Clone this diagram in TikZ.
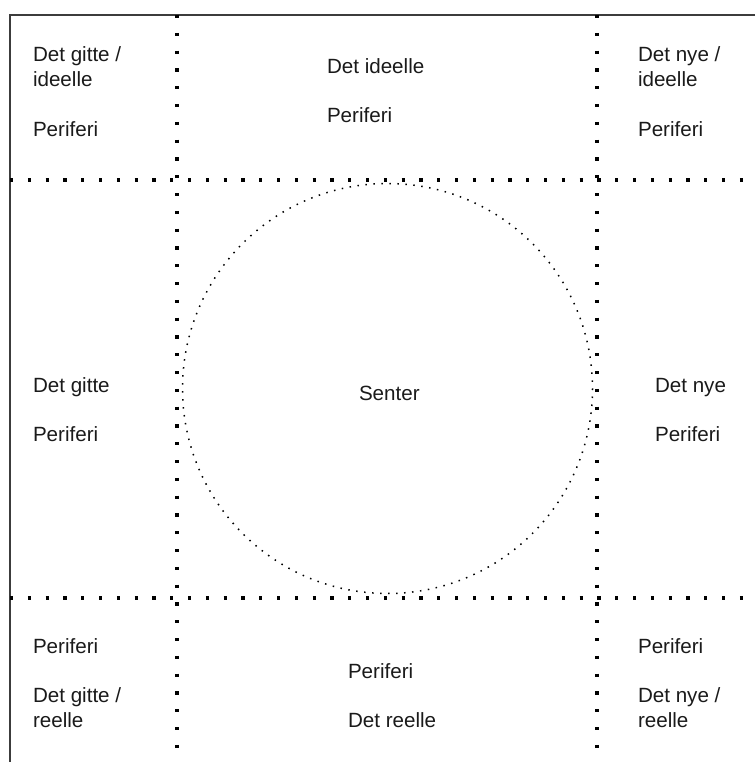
\documentclass[tikz,border=0pt]{standalone}
\usepackage{fontspec}
\setmainfont{Liberation Sans}
\definecolor{ink}{HTML}{1A1A1A}
\begin{document}
\begin{tikzpicture}[x=1pt,y=-1pt,
  lbl/.style={anchor=base west,inner sep=0pt,outer sep=0pt,text=ink,font=\fontsize{20.6}{25}\selectfont},
  border/.style={draw=ink!85,line width=1.4pt},
  bigdots/.style={draw=black,line width=3.2pt,dash pattern=on 3.2pt off 14.6pt},
  finedots/.style={draw=black,line width=1.5pt,dash pattern=on 1.5pt off 6.5pt}]
\useasboundingbox (0,0) rectangle (755,762);
% frame
\coordinate (tl) at (10,15);
\coordinate (tr) at (755,15);
\coordinate (bl) at (10,762);
\draw[border] (tr) -- (tl) -- (bl);
% dotted grid
\coordinate (h1a) at (10,180);  \coordinate (h1b) at (755,180);
\coordinate (h2a) at (10,598);  \coordinate (h2b) at (755,598);
\coordinate (v1a) at (177,15);  \coordinate (v1b) at (177,762);
\coordinate (v2a) at (597,15);  \coordinate (v2b) at (597,762);
\draw[bigdots] (h1a) -- (h1b);
\draw[bigdots] (h2a) -- (h2b);
\draw[bigdots] (v1a) -- (v1b);
\draw[bigdots] (v2a) -- (v2b);
% circle
\coordinate (c) at (387.5,388.5);
\draw[finedots] (c) circle[radius=205];
% top row
\node[lbl] (a1) at (33,62) {Det gitte /};
\node[lbl] (a2) at (33,87) {ideelle};
\node[lbl] (a3) at (33,137) {Periferi};
\node[lbl] (b1) at (327,74) {Det ideelle};
\node[lbl] (b2) at (327,123) {Periferi};
\node[lbl] (c1) at (638,62) {Det nye /};
\node[lbl] (c2) at (638,87) {ideelle};
\node[lbl] (c3) at (638,137) {Periferi};
% middle row
\node[lbl] (d1) at (33,392) {Det gitte};
\node[lbl] (d2) at (33,441) {Periferi};
\node[lbl] (e1) at (359,400) {Senter};
\node[lbl] (f1) at (655,392) {Det nye};
\node[lbl] (f2) at (655,441) {Periferi};
% bottom row
\node[lbl] (g1) at (33,653) {Periferi};
\node[lbl] (g2) at (33,702) {Det gitte /};
\node[lbl] (g3) at (33,727) {reelle};
\node[lbl] (h1) at (348,678) {Periferi};
\node[lbl] (h2) at (348,727) {Det reelle};
\node[lbl] (i1) at (638,653) {Periferi};
\node[lbl] (i2) at (638,702) {Det nye /};
\node[lbl] (i3) at (638,727) {reelle};
\end{tikzpicture}
\end{document}
